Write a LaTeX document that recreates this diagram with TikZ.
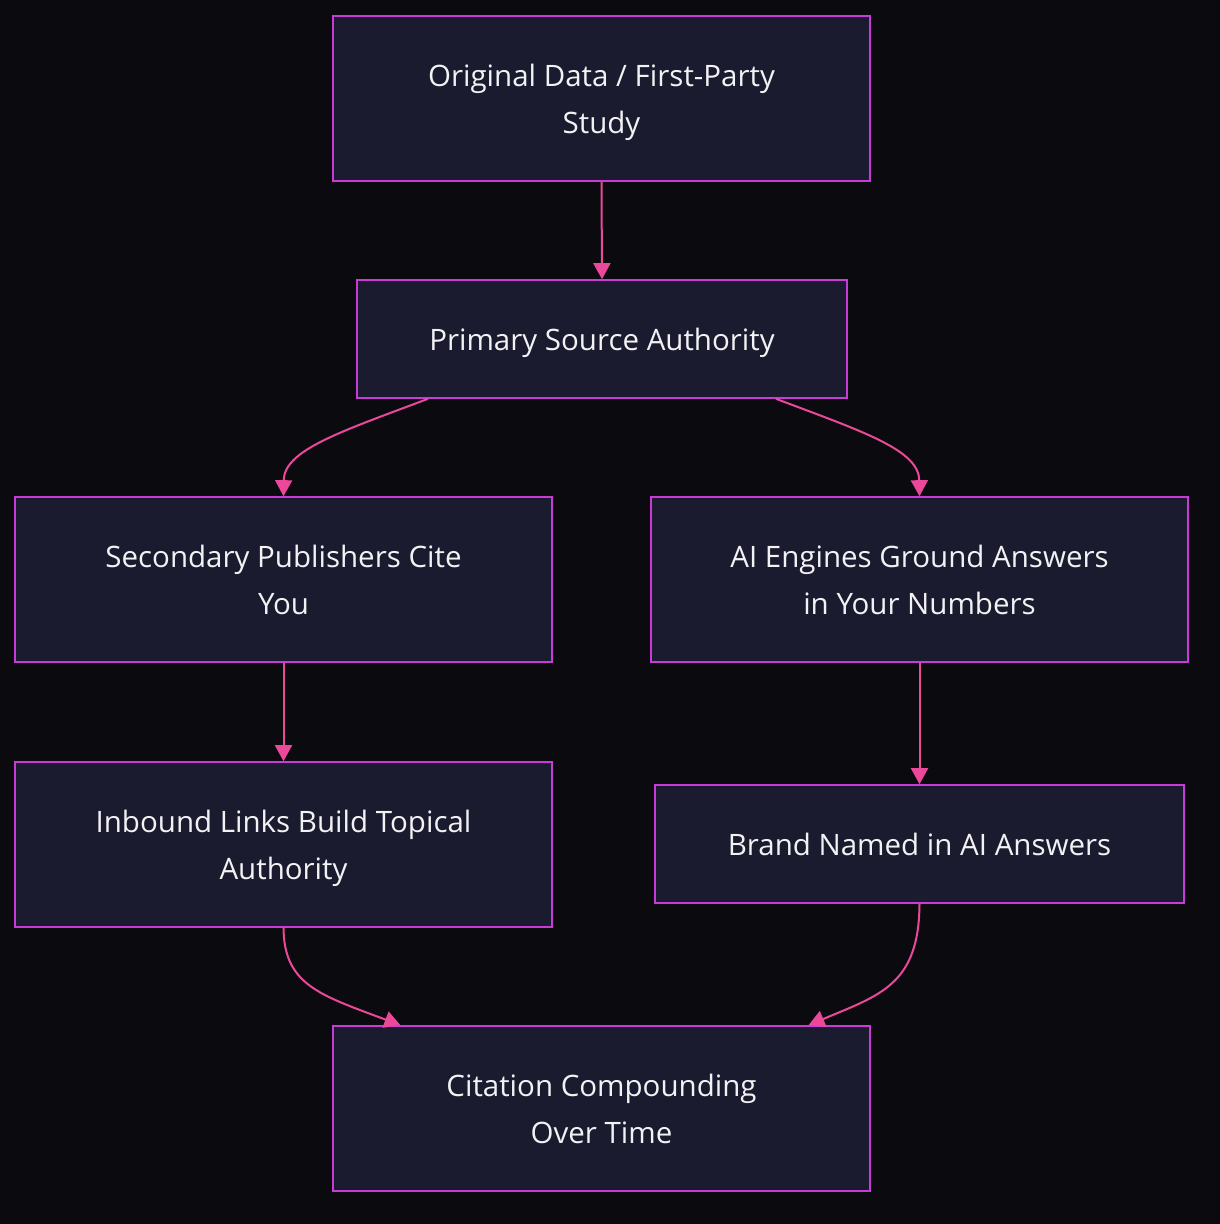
\documentclass[tikz,border=0pt]{standalone}
\usepackage{fontspec}
\setmainfont{Open Sans}
\usetikzlibrary{arrows.meta}
\definecolor{bgc}{HTML}{0A0A0F}
\definecolor{boxfill}{HTML}{1A1B2E}
\definecolor{boxline}{HTML}{C93BD6}
\definecolor{arrowc}{HTML}{EC4899}
\definecolor{txt}{HTML}{F2F2F5}
\newcommand{\lbl}[1]{\raisebox{-2pt}[\height][\depth]{\begin{tabular}{@{}c@{}}#1\end{tabular}}}
\begin{document}
\begin{tikzpicture}[x=1pt,y=-1pt,
  box/.style={draw=boxline,fill=boxfill,line width=1.6pt,text=txt,
    inner sep=0pt,font=\fontsize{29.5}{47}\selectfont},
  conn/.style={draw=arrowc,line width=2pt,-{Triangle[length=16pt,width=17pt]}}]
\fill[bgc] (0,0) rectangle (1220,1224);
\useasboundingbox (0,0) rectangle (1220,1224);
\node[box,minimum width=537pt,minimum height=165pt] (orig) at (601.5,98.5) {\lbl{Original Data / First-Party\\Study}};
\node[box,minimum width=490pt,minimum height=118pt] (prim) at (602,339) {\lbl{Primary Source Authority}};
\node[box,minimum width=537pt,minimum height=165pt] (sec) at (283.5,579.5) {\lbl{Secondary Publishers Cite\\You}};
\node[box,minimum width=537pt,minimum height=165pt] (ai) at (919.5,579.5) {\lbl{AI Engines Ground Answers\\in Your Numbers}};
\node[box,minimum width=537pt,minimum height=165pt] (inb) at (283.5,844.5) {\lbl{Inbound Links Build Topical\\Authority}};
\node[box,minimum width=529pt,minimum height=118pt] (brand) at (919.5,844) {\lbl{Brand Named in AI Answers}};
\node[box,minimum width=537pt,minimum height=165pt] (cit) at (601.5,1108.5) {\lbl{Citation Compounding\\Over Time}};
\coordinate (p1) at ([xshift=-174pt]prim.south);
\coordinate (p2) at ([xshift=174pt]prim.south);
\coordinate (c1) at ([xshift=-201pt]cit.north);
\coordinate (c2) at ([xshift=207pt]cit.north);
\draw[conn] (orig.south) -- (prim.north);
\draw[conn] (p1) .. controls (340,432) and (284,450) .. (sec.north);
\draw[conn] (p2) .. controls (864,432) and (919,450) .. (ai.north);
\draw[conn] (sec.south) -- (inb.north);
\draw[conn] (ai.south) -- (brand.north);
\draw[conn] (inb.south) .. controls (284,985) and (320,995) .. (c1);
\draw[conn] (brand.south) .. controls (919,985) and (880,995) .. (c2);
\end{tikzpicture}
\end{document}
